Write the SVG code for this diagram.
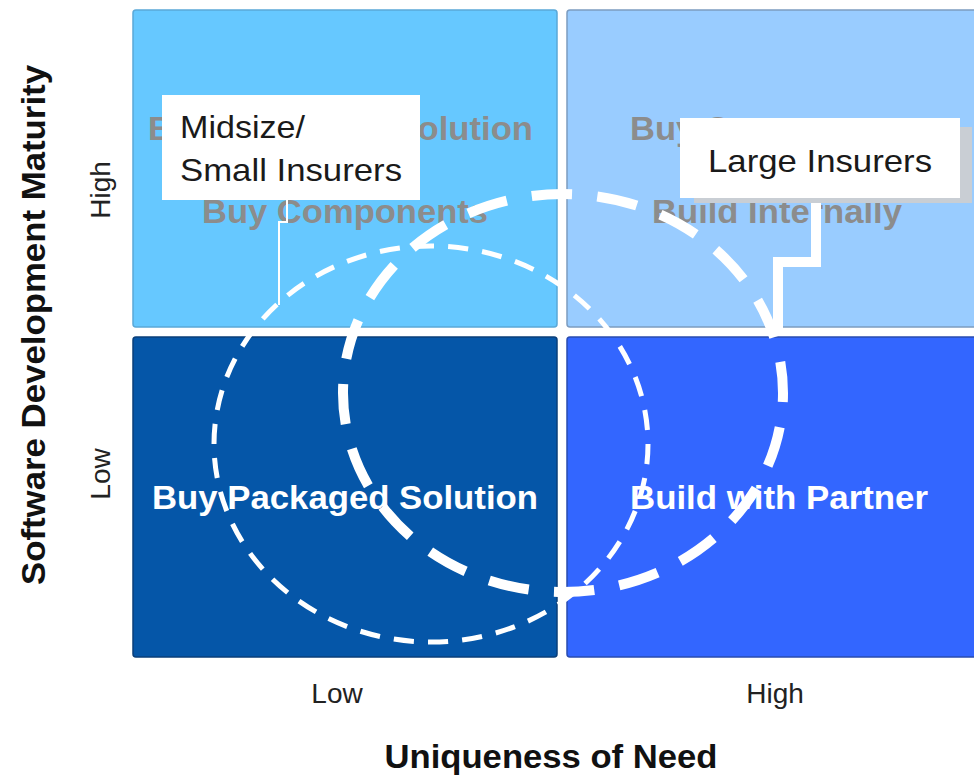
<svg xmlns="http://www.w3.org/2000/svg" width="974" height="778" viewBox="0 0 974 778">
  <style>
    .quad-label { font-family: "Liberation Sans", Arial, sans-serif; font-weight: bold; font-size: 33px; }
    .dim { fill: #8c8c8c; }
    .lite { fill: #ffffff; }
    .callout { font-family: "Liberation Sans", Arial, sans-serif; font-size: 32px; fill: #1a1a1a; }
    .axis-title { font-family: "Liberation Sans", Arial, sans-serif; font-weight: bold; font-size: 33px; fill: #111111; }
    .tick { font-family: "Liberation Sans", Arial, sans-serif; font-size: 28px; fill: #222222; }
    .ring { fill: none; stroke: #ffffff; }
  </style>

  <rect width="974" height="778" fill="#ffffff"/>

  <!-- quadrants -->
  <g id="q-top-left">
    <rect x="133" y="10" width="424" height="317" rx="3" fill="#66c8ff" stroke="#5aa8d8" stroke-width="1.5"/>
    <text class="quad-label dim" x="148" y="140" textLength="385" lengthAdjust="spacingAndGlyphs">Buy Packaged Solution</text>
    <text class="quad-label dim" x="202" y="223" textLength="286" lengthAdjust="spacingAndGlyphs">Buy Components</text>
  </g>
  <g id="q-top-right">
    <rect x="567" y="10" width="410" height="317" rx="3" fill="#99ccff" stroke="#7c9cc0" stroke-width="1.5"/>
    <text class="quad-label dim" x="630" y="140" textLength="286" lengthAdjust="spacingAndGlyphs">Buy Components</text>
    <text class="quad-label dim" x="652" y="223" textLength="250" lengthAdjust="spacingAndGlyphs">Build Internally</text>
  </g>
  <g id="q-bottom-left">
    <rect x="133" y="337" width="424" height="320" rx="3" fill="#0556a8" stroke="#0a3f7a" stroke-width="1.5"/>
    <text class="quad-label lite" x="152" y="509" textLength="386" lengthAdjust="spacingAndGlyphs">Buy Packaged Solution</text>
  </g>
  <g id="q-bottom-right">
    <rect x="567" y="337" width="410" height="320" rx="3" fill="#3366ff" stroke="#2a4cb0" stroke-width="1.5"/>
    <text class="quad-label lite" x="630" y="509" textLength="298" lengthAdjust="spacingAndGlyphs">Build with Partner</text>
  </g>

  <!-- segment rings -->
  <g id="rings">
    <ellipse id="ring-midsize" class="ring" cx="431" cy="444" rx="217" ry="198" stroke-width="5" pathLength="1292" stroke-dasharray="20 14"/>
    <ellipse id="ring-large" class="ring" cx="563" cy="393" rx="220" ry="199" stroke-width="10" pathLength="1300" stroke-dasharray="40 25" stroke-dashoffset="31"/>
  </g>

  <!-- callout leaders -->
  <g id="connectors" fill="none" stroke="#ffffff">
    <path d="M287 200 V222 H279 V305" stroke-width="2"/>
    <path d="M816 200 V262 H778 V336" stroke-width="10"/>
  </g>

  <!-- callouts -->
  <g id="callout-midsize">
    <rect x="162" y="95" width="258" height="105" fill="#ffffff"/>
    <text class="callout" x="180" y="138" textLength="125" lengthAdjust="spacingAndGlyphs">Midsize/</text>
    <text class="callout" x="180" y="181" textLength="222" lengthAdjust="spacingAndGlyphs">Small Insurers</text>
  </g>
  <g id="callout-large">
    <rect x="694" y="127" width="278" height="76" fill="#c9ced4"/>
    <rect x="680" y="118" width="280" height="80" fill="#ffffff"/>
    <text class="callout" x="708" y="172" textLength="224" lengthAdjust="spacingAndGlyphs">Large Insurers</text>
  </g>

  <!-- axes -->
  <g id="axis-y">
    <text class="axis-title" transform="translate(45 325) rotate(-90)" text-anchor="middle" textLength="520" lengthAdjust="spacingAndGlyphs">Software Development Maturity</text>
    <text class="tick" transform="translate(110 190) rotate(-90)" text-anchor="middle">High</text>
    <text class="tick" transform="translate(110 474) rotate(-90)" text-anchor="middle">Low</text>
  </g>
  <g id="axis-x">
    <text class="tick" x="337" y="703" text-anchor="middle">Low</text>
    <text class="tick" x="775" y="703" text-anchor="middle">High</text>
    <text class="axis-title" x="551" y="768" text-anchor="middle" textLength="333" lengthAdjust="spacingAndGlyphs">Uniqueness of Need</text>
  </g>
</svg>
